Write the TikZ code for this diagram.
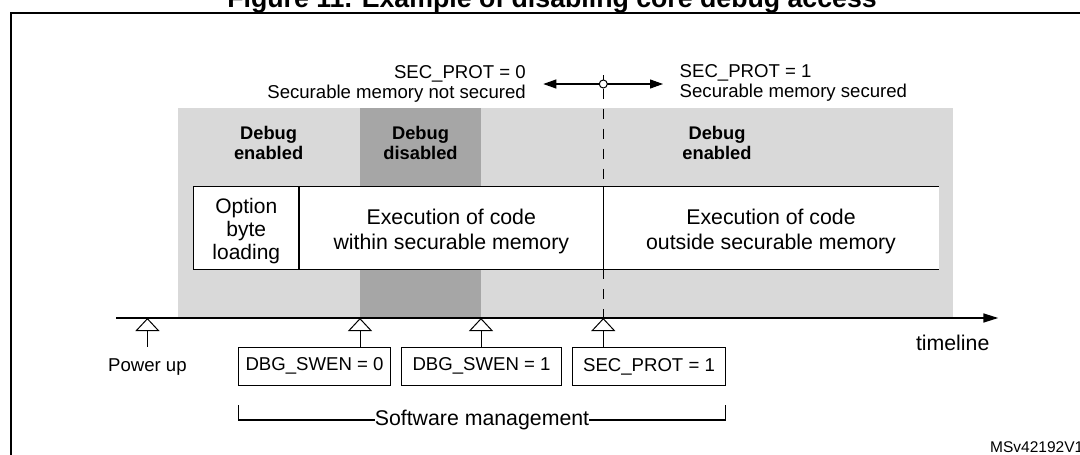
\documentclass[tikz,border=0pt]{standalone}
\usepackage{fontspec}
\setmainfont{Liberation Sans}
\usetikzlibrary{arrows.meta}
\definecolor{lightg}{RGB}{217,217,217}
\definecolor{darkg}{RGB}{166,166,166}
\begin{document}
\begin{tikzpicture}[x=1pt,y=-1pt,
  toplbl/.style={inner sep=0pt, font=\fontsize{18.6}{20.5}\selectfont},
  dbglbl/.style={inner sep=0pt, anchor=north, align=center, font=\bfseries\fontsize{18.3}{20}\selectfont},
  celltxt/.style={inner sep=0pt, anchor=north, align=center},
  regbox/.style={draw, line width=1.1pt, inner sep=0pt, minimum height=38pt, font=\fontsize{18.6}{20}\selectfont},
  marker/.style={line width=1pt, -{Triangle[open,length=13pt,width=24pt]}},
  axis/.style={line width=1.6pt, -{Triangle[length=15pt,width=9pt]}},
  dbl/.style={line width=1.1pt, {Triangle[length=13pt,width=9pt]}-{Triangle[length=13pt,width=9pt]}},
  dashline/.style={line width=1pt, dash pattern=on 10pt off 10pt},
  bigtxt/.style={font=\fontsize{21.3}{25}\selectfont}]
\useasboundingbox (0,0) rectangle (1080,455);

% title (partly above the page) and frame
\node[anchor=base, inner sep=0pt, font=\bfseries\fontsize{26.7}{30}\selectfont] (title) at (552,7) {Figure 11. Example of disabling core debug access};
\draw[line width=2pt] (11.4,470) -- (11.4,12.5) -- (1095,12.5);

% background bands
\fill[lightg] (178,108.3) rectangle (952.7,318);
\fill[darkg] (360,108.3) rectangle (481,318);

% white execution box (open on the right)
\fill[white] (193.3,186.7) rectangle (938.8,269.3);
\draw[line width=1.1pt] (938.8,186.7) -- (193.3,186.7) -- (193.3,269.3) -- (938.8,269.3);
\draw[line width=1.1pt] (299,186.7) -- (299,269.3);
\draw[line width=1.1pt] (603.3,186.7) -- (603.3,269.3);

% debug labels
\node[dbglbl] (d1) at (268.6,126.5) {Debug\\enabled};
\node[dbglbl] (d2) at (420.5,126.5) {Debug\\disabled};
\node[dbglbl] (d3) at (717,126.5) {Debug\\enabled};

% cell texts
\node[celltxt, font=\fontsize{21}{23}\selectfont] (c1) at (246.3,198.3) {Option\\byte\\loading};
\node[celltxt, font=\fontsize{21.3}{25}\selectfont] (c2) at (451.3,209.3) {Execution of code\\within securable memory};
\node[celltxt, font=\fontsize{21.3}{25}\selectfont] (c3) at (771,209.3) {Execution of code\\outside securable memory};

% top labels and SEC_PROT switch
\node[toplbl, anchor=north east, align=right] (s0) at (526,65) {SEC\_PROT = 0\\Securable memory not secured};
\node[toplbl, anchor=north west, align=left] (s1) at (679.5,64) {SEC\_PROT = 1\\Securable memory secured};
\coordinate (al) at (543.3,84);
\coordinate (ar) at (663,84);
\draw[dbl] (al) -- (ar);
\node[draw, circle, fill=white, line width=1pt, minimum size=8pt, inner sep=0pt] (pc) at (603.3,84) {};
\coordinate (tick) at (603.3,75);
\draw[line width=1pt] (pc.north) -- (tick);

% timeline
\coordinate (tl0) at (116.4,318);
\coordinate (tlend) at (998.3,318);
\coordinate (t0) at (147.4,318);
\coordinate (t1) at (360,318);
\coordinate (t2) at (481,318);
\coordinate (t3) at (603.3,318);
\coordinate (bxtop) at (603.3,186.7);
\coordinate (bxbot) at (603.3,269.3);
\draw[dashline] (pc.south) -- (bxtop);
\draw[dashline] (bxbot) -- (t3);
\draw[axis] (tl0) -- (tlend);
\node[bigtxt, inner sep=0pt] (tlab) at (952.7,342.7) {timeline};

% events
\node[inner sep=0pt, font=\fontsize{18.6}{20}\selectfont] (power) at (147.4,366.7) {Power up};
\coordinate (pu) at (147.4,346.7);
\node[regbox, minimum width=152.5pt] (dbg0) at (314.5,366.3) {DBG\_SWEN = 0};
\node[regbox, minimum width=160pt] (dbg1) at (481.5,366.3) {DBG\_SWEN = 1};
\node[regbox, minimum width=152.6pt] (secp) at (649,366.7) {SEC\_PROT = 1};
\draw[marker] (pu) -- (t0);
\draw[marker] (t1 |- dbg0.north) -- (t1);
\draw[marker] (t2 |- dbg1.north) -- (t2);
\draw[marker] (t3 |- secp.north) -- (t3);

% software management bracket
\node[bigtxt, inner sep=0pt, anchor=base] (sw) at (482,425.5) {Software management};
\coordinate (swy) at (482,420);
\coordinate (bl) at (238.3,405);
\coordinate (br) at (725.3,405);
\draw[line width=1.1pt] (bl) -- (bl |- swy) -- (sw.west |- swy);
\draw[line width=1.1pt] (sw.east |- swy) -- (br |- swy) -- (br);

\node[anchor=west, inner sep=0pt, font=\fontsize{15.5}{17}\selectfont] (ms) at (990,446.7) {MSv42192V1};
\end{tikzpicture}
\end{document}
